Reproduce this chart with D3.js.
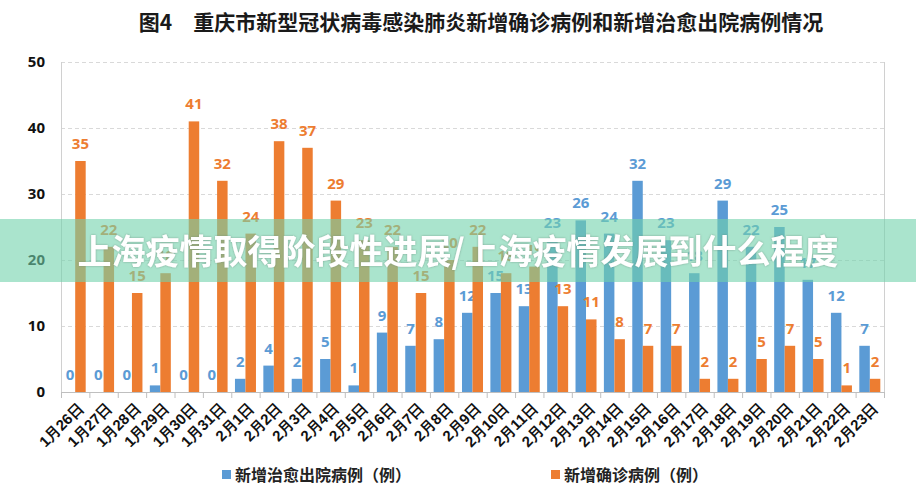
<!DOCTYPE html>
<html>
<head>
<meta charset="utf-8">
<script src="https://cdn.jsdelivr.net/npm/d3@7"></script>
<style>
  html, body { margin: 0; padding: 0; background: #fff; }
  svg { display: block; font-family: "Noto Sans CJK SC", "Noto Sans", sans-serif; }
</style>
</head>
<body>
<svg id="chart" width="916" height="501"></svg>
<script>
// categories (dates)
var dates = ['1月26日', '1月27日', '1月28日', '1月29日', '1月30日', '1月31日', '2月1日', '2月2日', '2月3日',
    '2月4日', '2月5日', '2月6日', '2月7日', '2月8日', '2月9日', '2月10日', '2月11日', '2月12日', '2月13日',
    '2月14日', '2月15日', '2月16日', '2月17日', '2月18日', '2月19日', '2月20日', '2月21日', '2月22日', '2月23日'];

// 新增治愈出院病例
var cured = [0, 0, 0, 1, 0, 0, 2, 4, 2, 5, 1, 9, 7, 8, 12, 15, 13, 23, 26, 24, 32, 23, 18, 29, 22, 25, 17, 12, 7];
// 新增确诊病例
var confirmed = [35, 22, 15, 18, 41, 32, 24, 38, 37, 29, 23, 22, 15, 20, 22, 18, 19, 13, 11, 8, 7, 7, 2, 2, 5, 7, 5, 1, 2];

var yTicks = [0, 10, 20, 30, 40, 50];
var seriesNames = ['新增治愈出院病例（例）', '新增确诊病例（例）'];
var seriesColors = ['#5B9BD5', '#ED7D31'];

var title = '图4　重庆市新型冠状病毒感染肺炎新增确诊病例和新增治愈出院病例情况';
var banner = '上海疫情取得阶段性进展/上海疫情发展到什么程度';

(function () {
    var svg = d3.select('#chart');
    var mLeft = 61, mRight = 884, mTop = 62, mBottom = 392;

    var x = d3.scaleBand().domain(dates).range([mLeft, mRight]).paddingInner(0.26).paddingOuter(0.13);
    var inner = d3.scaleBand().domain([0, 1]).range([0, x.bandwidth()]);
    var y = d3.scaleLinear().domain([0, 50]).range([mBottom, mTop]);

    // title
    svg.append('text').attr('x', 481).attr('y', 30).attr('text-anchor', 'middle')
        .attr('font-size', 21).attr('font-weight', 'bold').attr('fill', '#1a1a1a').text(title);

    // gridlines
    svg.append('g').selectAll('line').data(yTicks.filter(function (d) { return d > 0; })).join('line')
        .attr('x1', mLeft).attr('x2', mRight)
        .attr('y1', function (d) { return y(d) + 0.5; }).attr('y2', function (d) { return y(d) + 0.5; })
        .attr('stroke', '#d9d9d9').attr('stroke-dasharray', '4,3');

    // plot frame left / right
    svg.append('line').attr('x1', mLeft + 0.5).attr('x2', mLeft + 0.5).attr('y1', mTop).attr('y2', mBottom).attr('stroke', '#d0d0d0');
    svg.append('line').attr('x1', mRight + 0.5).attr('x2', mRight + 0.5).attr('y1', mTop).attr('y2', mBottom).attr('stroke', '#d0d0d0');

    // y axis labels
    var yAxis = d3.axisLeft(y).tickValues(yTicks).tickSize(0).tickPadding(16);
    svg.append('g').attr('transform', 'translate(' + mLeft + ',0)').call(yAxis)
        .call(function (g) { g.select('.domain').remove(); })
        .selectAll('text').attr('font-size', 15).attr('font-weight', 'bold').attr('fill', '#111')
        .attr('font-family', '"Noto Sans", "Noto Sans CJK SC", sans-serif');

    // bars + value labels
    [cured, confirmed].forEach(function (vals, s) {
        var g = svg.append('g');
        g.selectAll('rect').data(vals).join('rect')
            .attr('x', function (d, i) { return x(dates[i]) + inner(s); })
            .attr('width', inner.bandwidth())
            .attr('y', function (d) { return y(d); })
            .attr('height', function (d) { return y(0) - y(d); })
            .attr('fill', seriesColors[s]);
        g.selectAll('text').data(vals).join('text')
            .attr('x', function (d, i) { return x(dates[i]) + inner(s) + inner.bandwidth() / 2; })
            .attr('y', function (d) { return y(d) - 12; })
            .attr('text-anchor', 'middle').attr('font-size', 15).attr('font-weight', 'bold')
            .attr('font-family', '"Noto Sans", sans-serif')
            .attr('fill', seriesColors[s]).text(function (d) { return d; });
    });

    // x axis
    var xAxis = d3.axisBottom(x).tickSize(0).tickPadding(0);
    var xg = svg.append('g').attr('transform', 'translate(0,' + mBottom + ')').call(xAxis);
    xg.select('.domain').attr('stroke', '#bfbfbf').attr('d', 'M' + mLeft + ',0.5H' + mRight);
    // tick marks between categories
    xg.append('g').selectAll('line').data(d3.range(dates.length + 1)).join('line')
        .attr('x1', function (i) { return mLeft + i * x.step() + 0.5; })
        .attr('x2', function (i) { return mLeft + i * x.step() + 0.5; })
        .attr('y1', 0).attr('y2', 6).attr('stroke', '#bfbfbf');
    xg.selectAll('.tick text')
        .attr('font-size', 15).attr('font-weight', 'bold').attr('fill', '#111')
        .attr('text-anchor', 'end').attr('dy', '0.3em')
        .attr('transform', 'translate(6,14) rotate(-45)');

    // legend
    var legend = svg.append('g');
    var legendX = [222, 551];
    seriesNames.forEach(function (name, s) {
        legend.append('rect').attr('x', legendX[s]).attr('y', 470).attr('width', 9).attr('height', 9).attr('fill', seriesColors[s]);
        legend.append('text').attr('x', legendX[s] + 13).attr('y', 481).attr('font-size', 16).attr('font-weight', 'bold')
            .attr('fill', '#222').text(name);
    });

    // overlay banner
    var defs = svg.append('defs');
    var f = defs.append('filter').attr('id', 'sh').attr('x', '-5%').attr('y', '-20%').attr('width', '110%').attr('height', '140%');
    f.append('feDropShadow').attr('dx', 0).attr('dy', 0).attr('stdDeviation', 1.2).attr('flood-color', '#6a8a7a').attr('flood-opacity', 0.7);
    svg.append('rect').attr('x', 0).attr('y', 219).attr('width', 916).attr('height', 63)
        .attr('fill', 'rgb(113,210,172)').attr('fill-opacity', 0.6);
    svg.append('text').attr('x', 458).attr('y', 264).attr('text-anchor', 'middle')
        .attr('font-size', 34).attr('font-weight', 'bold').attr('fill', '#fff').attr('filter', 'url(#sh)')
        .text(banner);
})();
</script>
</body>
</html>
